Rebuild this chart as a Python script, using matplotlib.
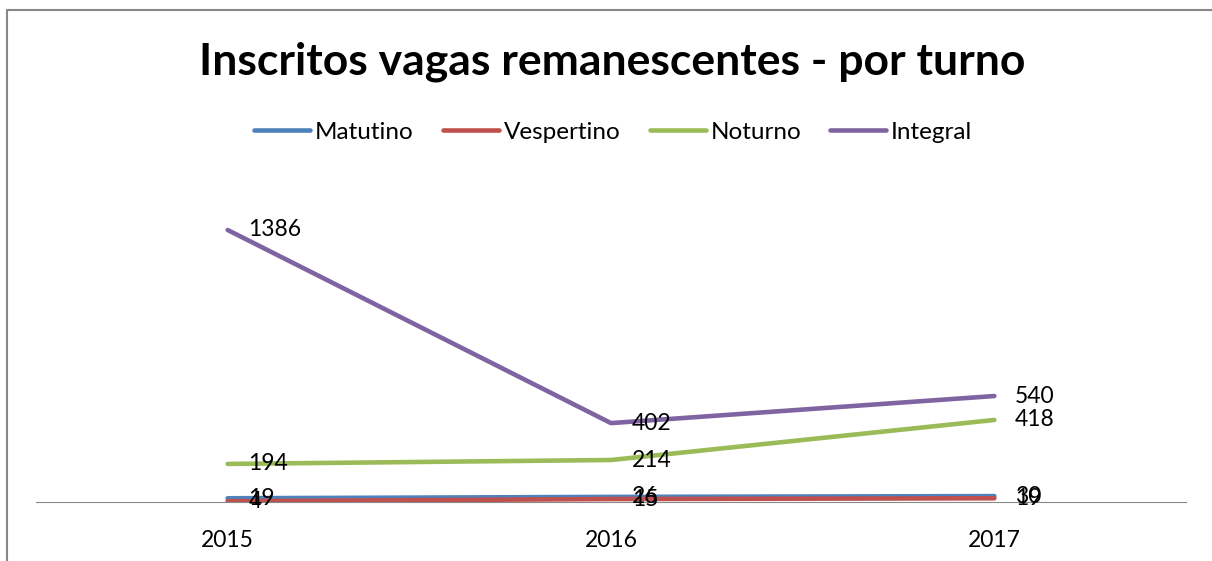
import matplotlib.pyplot as plt
from matplotlib.patches import Rectangle

anos = ['2015', '2016', '2017']
matutino = [19, 26, 30]
vespertino = [4, 15, 19]
noturno = [194, 214, 418]
integral = [1386, 402, 540]

series = [
    ('Matutino', matutino, '#4F81BD'),
    ('Vespertino', vespertino, '#C0504D'),
    ('Noturno', noturno, '#9BBB59'),
    ('Integral', integral, '#8064A2'),
]

W, H = 1212, 561
plt.rcParams['font.family'] = ['Lato', 'DejaVu Sans']
fig = plt.figure(figsize=(W / 100, H / 100), dpi=100)

# moldura do gráfico
fig.patches.append(Rectangle((7 / W, -0.1), 1.1, 1 - 10 / H + 0.1, transform=fig.transFigure,
                             fill=False, edgecolor='#888888', linewidth=1.5))

left, right, bottom, top = 36, 1186, 502, 188
ax = fig.add_axes([left / W, 1 - bottom / H, (right - left) / W, (bottom - top) / H])
x = list(range(len(anos)))
for nome, valores, cor in series:
    ax.plot(x, valores, color=cor, linewidth=3.3, label=nome, solid_capstyle='round')
    for xi, v in zip(x, valores):
        ax.annotate(str(v), (xi, v), xytext=(15, 0), textcoords='offset points',
                    va='center', ha='left', fontsize=16.5, color='black')

ax.set_xlim(-0.5, 2.5)
ax.set_ylim(0, 1600)
ax.set_xticks(x)
ax.set_xticklabels(anos, fontsize=16.5)
ax.tick_params(axis='x', length=0, pad=20)
ax.set_yticks([])
for s in ['left', 'right', 'top']:
    ax.spines[s].set_visible(False)
ax.spines['bottom'].set_color('#888888')
ax.patch.set_visible(False)

fig.text(0.505, 1 - 62 / H, 'Inscritos vagas remanescentes - por turno', ha='center', va='center',
         fontsize=32, fontweight='bold')
fig.legend(loc='center', bbox_to_anchor=(0.506, 1 - 132 / H), ncol=4, frameon=False,
           fontsize=17.5, handlelength=2.3, handletextpad=0.2, columnspacing=1.2)

fig.savefig('out.png', dpi=100)
